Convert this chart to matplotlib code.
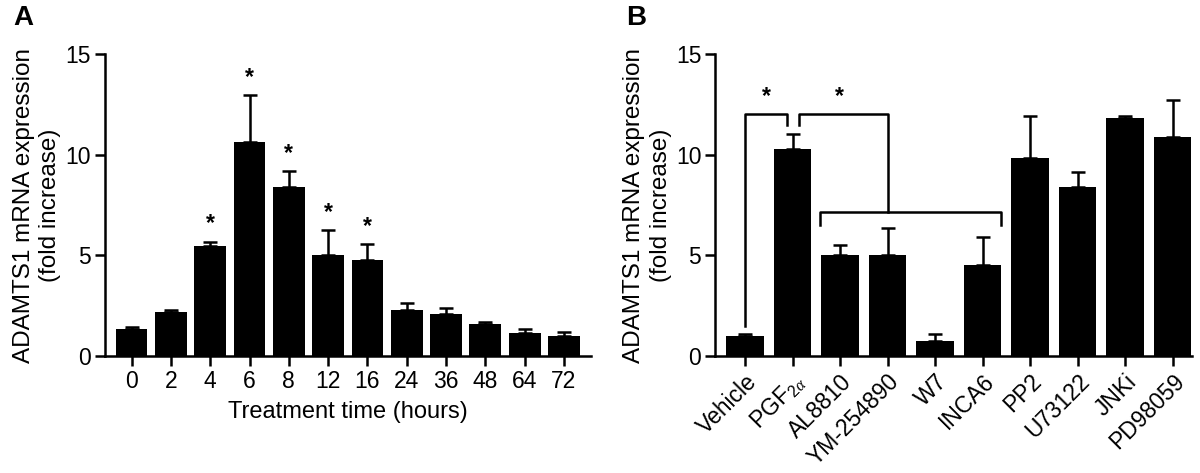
import numpy as np
import matplotlib
matplotlib.use("Agg")
import matplotlib.pyplot as plt

plt.rcParams['font.family'] = ['Liberation Sans', 'DejaVu Sans']
plt.rcParams['mathtext.fontset'] = 'custom'
plt.rcParams['mathtext.rm'] = 'Liberation Sans'
plt.rcParams['mathtext.it'] = 'Liberation Serif:italic'

# Panel A data
time_labels = ['0', '2', '4', '6', '8', '12', '16', '24', '36', '48', '64', '72']
time_means = [1.35, 2.17, 5.46, 10.64, 8.40, 5.00, 4.77, 2.30, 2.07, 1.60, 1.13, 1.00]
time_errs = [0.11, 0.12, 0.23, 2.30, 0.79, 1.27, 0.79, 0.32, 0.31, 0.09, 0.20, 0.20]
time_sig = [False, False, True, True, True, True, True, False, False, False, False, False]

# Panel B data
treat_labels = ['Vehicle', 'PGF$_{2\\mathit{\\alpha}}$', 'AL8810', 'YM-254890', 'W7', 'INCA6',
                'PP2', 'U73122', 'JNKi', 'PD98059']
treat_means = [1.00, 10.30, 5.00, 5.00, 0.77, 4.54, 9.82, 8.42, 11.83, 10.89]
treat_errs = [0.12, 0.75, 0.54, 1.37, 0.35, 1.36, 2.08, 0.74, 0.09, 1.82]

ylabel = 'ADAMTS1 mRNA expression\n(fold increase)'
TICK_FS = 16.5
LABEL_FS = 17.5
LW = 1.8


def style_axes(ax):
    for side in ['top', 'right']:
        ax.spines[side].set_visible(False)
    for side in ['left', 'bottom']:
        ax.spines[side].set_linewidth(LW)
    ax.set_ylim(0, 15)
    ax.set_yticks([0, 5, 10, 15])
    ax.tick_params(width=LW, length=7, labelsize=TICK_FS, pad=3)
    ax.set_ylabel(ylabel, fontsize=LABEL_FS, labelpad=3, linespacing=1.25)


fig = plt.figure(figsize=(12, 4.73), dpi=100)

# ---- Panel A ----
axA = fig.add_axes([0.0872, 0.247, 0.4053, 0.639])
xa = np.arange(len(time_labels))
axA.bar(xa, time_means, width=0.81, color='black',
        yerr=[np.zeros(len(time_errs)), time_errs],
        error_kw=dict(ecolor='black', elinewidth=LW, capsize=5, capthick=LW))
for i, sig in enumerate(time_sig):
    if sig:
        axA.text(xa[i], time_means[i] + time_errs[i] + 0.3, '*', ha='center',
                 va='bottom', fontsize=TICK_FS, fontweight='bold')
axA.set_xticks(xa)
axA.set_xticklabels(time_labels)
axA.set_xlim(-0.685, 11.687)
style_axes(axA)
axA.set_xlabel('Treatment time (hours)', fontsize=17, labelpad=6)

# ---- Panel B ----
axB = fig.add_axes([0.596, 0.247, 0.397, 0.639])
xb = np.arange(len(treat_labels))
axB.bar(xb, treat_means, width=0.79, color='black',
        yerr=[np.zeros(len(treat_errs)), treat_errs],
        error_kw=dict(ecolor='black', elinewidth=LW, capsize=5, capthick=LW))
axB.set_xticks(xb)
axB.set_xticklabels(treat_labels, rotation=45, ha='right', rotation_mode='anchor')
axB.set_xlim(-0.63, 9.4)
style_axes(axB)

# bracket Vehicle vs PGF2a
axB.plot([0, 0, 0.88, 0.88], [1.5, 12.04, 12.04, 11.46], color='black', lw=LW)
axB.text(0.45, 12.3, '*', ha='center', va='bottom', fontsize=TICK_FS, fontweight='bold')
# bracket PGF2a vs inhibitors
axB.plot([1.14, 1.14, 3.01, 3.01], [11.46, 12.04, 12.04, 7.14], color='black', lw=LW)
axB.text(1.99, 12.3, '*', ha='center', va='bottom', fontsize=TICK_FS, fontweight='bold')
axB.plot([1.58, 1.58, 5.38, 5.38], [6.53, 7.14, 7.14, 6.53], color='black', lw=LW)

fig.text(0.011, 0.99, 'A', fontsize=20, fontweight='bold', va='top')
fig.text(0.522, 0.99, 'B', fontsize=20, fontweight='bold', va='top')

fig.savefig('out.png', dpi=100)
